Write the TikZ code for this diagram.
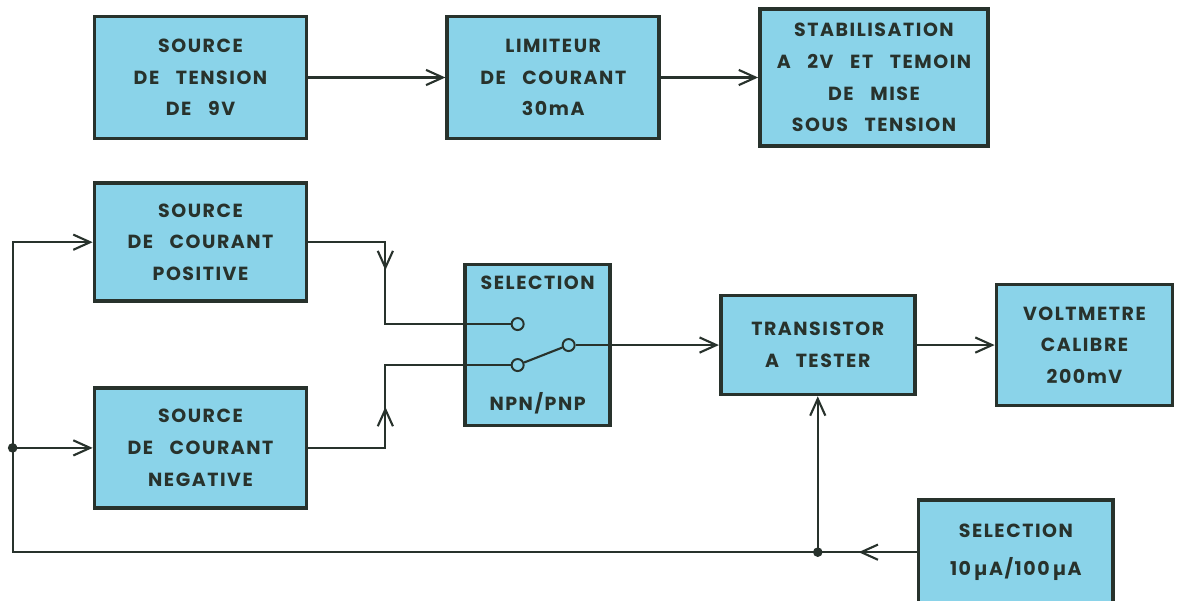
\documentclass[tikz,border=0pt]{standalone}
\usepackage{fontspec}
\setmainfont{Poppins}[LetterSpace=8, WordSpace=3]
\usetikzlibrary{arrows.meta,positioning,calc,decorations.markings}
\definecolor{boxfill}{RGB}{138,211,233}
\definecolor{ink}{RGB}{40,50,44}

\begin{document}
\begin{tikzpicture}[x=0.025cm, y=-0.025cm,
  blk/.style={draw=ink, line width=2.6pt, fill=boxfill, align=center, text=ink,
    font=\fontsize{13.5}{22.5}\selectfont\bfseries, inner sep=0pt},
  srcbox/.style={blk, minimum width=5.3cm, minimum height=3.05cm},
  term/.style={circle, draw=ink, fill=boxfill, line width=1.4pt, minimum size=0.3cm, inner sep=0pt},
  wire/.style={draw=ink, line width=1.5pt},
  arr/.style={wire, -{Straight Barb[length=4.2mm,width=3.8mm]}},
  midarr/.style={postaction={decorate}, decoration={markings,
    mark=at position #1 with {\arrow{Straight Barb[length=4.2mm,width=3.8mm]}}}}
]
\useasboundingbox (0,0) rectangle (1191,600);
\clip (0,0) rectangle (1191,600);

% supply chain
\node[srcbox] (src) at (200.5,77.5) {SOURCE\\DE TENSION\\DE 9V};
\node[srcbox, right=3.425cm of src] (lim) {LIMITEUR\\DE COURANT\\30mA};
\node[blk, minimum width=5.7cm, minimum height=3.42cm, right=2.425cm of lim] (stab) {STABILISATION\\A 2V ET TEMOIN\\DE MISE\\SOUS TENSION};
\draw[arr] (src) -- (lim);
\draw[arr] (lim.east) -- (lim.east -| stab.west);

% current sources
\node[srcbox, minimum height=2.95cm, below=1.025cm of src] (pos) {SOURCE\\DE COURANT\\POSITIVE};
\node[srcbox, minimum height=3.0cm, below=2.075cm of pos] (neg) {SOURCE\\DE COURANT\\NEGATIVE};
\coordinate (mid) at ($(pos.east)!0.5!(neg.east)$);

% switch and measurement
\node[blk, minimum width=3.62cm, minimum height=4.02cm, right=3.875cm of mid] (sel) {SELECTION\\[2.25cm]NPN/PNP};
\node[blk, minimum width=4.85cm, minimum height=2.47cm, right=2.675cm of sel] (tr) {TRANSISTOR\\A TESTER};
\node[blk, minimum width=4.4cm, minimum height=3.02cm, right=1.95cm of tr] (vm) {VOLTMETRE\\CALIBRE\\200mV};
\node[blk, minimum width=4.87cm, minimum height=2.6cm, below=2.55cm of tr.south east, anchor=north west] (sel2) {SELECTION\\[0.15cm]10\,µA/100\,µA};

\node[term] (ta) at ($(sel.center)+(-20,-21)$) {};
\node[term] (tb) at ($(sel.center)+(-20,20)$) {};
\node[term] (tc) at ($(sel.center)+(31,0)$) {};
\draw[wire] (tb) -- (tc);

\coordinate (jp) at ($(pos.east)+(77,0)$);
\coordinate (jn) at ($(neg.east)+(77,0)$);
\draw[wire, midarr=2.625cm] (pos.east) -- (jp) |- (ta);
\draw[wire, midarr=2.95cm] (neg.east) -- (jn) |- (tb);
\draw[arr] (tc) -- (tc -| tr.west);
\draw[arr] (tr.east) -- (tr.east -| vm.west);

% feedback bus
\coordinate (bus) at ($(pos.west)+(-80,0)$);
\coordinate (jl) at (bus |- neg.west);
\coordinate (jt) at (tr.south |- sel2.west);
\draw[arr, midarr=1.45cm] (sel2.west) -| (bus) -- (pos.west);
\draw[arr] (jl) -- (neg.west);
\draw[arr] (jt) -- (tr.south);
\fill[ink] (jl) circle (0.12cm);
\fill[ink] (jt) circle (0.12cm);

\end{tikzpicture}
\end{document}
